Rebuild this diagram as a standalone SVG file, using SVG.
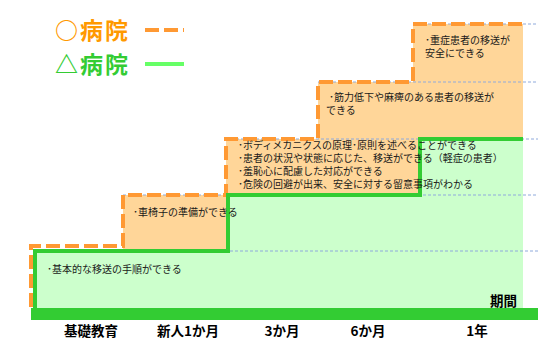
<svg xmlns="http://www.w3.org/2000/svg" width="538" height="361" viewBox="0 0 538 361">
<style>
.leg{font-family:"Noto Sans CJK JP","Noto Sans",sans-serif;font-weight:bold;font-size:23px}
.t{font-family:"Noto Sans CJK JP","Noto Sans",sans-serif;font-size:10px;fill:#1a1a1a}
.ax{font-family:"Noto Sans CJK JP","Noto Sans",sans-serif;font-weight:bold;font-size:13.5px;fill:#000;text-anchor:middle}
.grid{stroke:#8FAADC;stroke-width:1;stroke-dasharray:3 2;fill:none}
.orange{stroke:#FF9933;stroke-width:4;stroke-dasharray:14 5;fill:none}
.green{stroke:#33CC33;stroke-width:4;fill:none}
</style>
<rect width="538" height="361" fill="#fff"/>
<g id="legend">
<text class="leg" x="55" y="39" fill="#FF9900" textLength="73">○病院</text>
<line x1="145" y1="30" x2="184" y2="30" class="orange"/>
<text class="leg" x="55" y="73" fill="#33CC33" textLength="73">△病院</text>
<line x1="145" y1="64" x2="184" y2="64" stroke="#66FF66" stroke-width="4"/>
</g>
<g id="fills">
<path d="M123,251 V195 H226 V139 H318 V82 H413 V24 H523 V308 H123 Z" fill="#FFD699"/>
<path d="M35,308 V251 H228 V195 H420 V139 H523 V308 Z" fill="#CCFFCC"/>
</g>
<g id="grid">
<line x1="413" y1="24" x2="538" y2="24" class="grid"/>
<line x1="318" y1="82" x2="538" y2="82" class="grid"/>
<line x1="226" y1="139" x2="538" y2="139" class="grid"/>
<line x1="123" y1="195" x2="538" y2="195" class="grid"/>
<line x1="35" y1="251" x2="538" y2="251" class="grid"/>
</g>
<g id="connectors">
<path d="M31,307 V246 H123 V195 H226 V139 H318 V82 H413 V24 H523" class="orange"/>
<path d="M35,308 V251 H228 V195 H420 V139 H523" class="green"/>
<rect x="31" y="308" width="507" height="12" fill="#33CC33"/>
</g>
<g id="step1"><text class="t" x="47" y="273">･基本的な移送の手順ができる</text></g>
<g id="step2"><text class="t" x="133" y="216">･車椅子の準備ができる</text></g>
<g id="step3">
<text class="t" x="238" y="149">･ボディメカニクスの原理･原則を述べることができる</text>
<text class="t" x="238" y="162">･患者の状況や状態に応じた、移送ができる（軽症の患者）</text>
<text class="t" x="238" y="175">･羞恥心に配慮した対応ができる</text>
<text class="t" x="238" y="188">･危険の回避が出来、安全に対する留意事項がわかる</text>
</g>
<g id="step4">
<text class="t" x="329" y="101">･筋力低下や麻痺のある患者の移送が</text>
<text class="t" x="326" y="114">できる</text>
</g>
<g id="step5">
<text class="t" x="425" y="44">･重症患者の移送が</text>
<text class="t" x="425" y="57">安全にできる</text>
</g>
<g id="axis">
<text class="ax" x="91" y="336">基礎教育</text>
<text class="ax" x="188" y="336">新人1か月</text>
<text class="ax" x="282" y="336">3か月</text>
<text class="ax" x="368" y="336">6か月</text>
<text class="ax" x="477" y="336">1年</text>
<text class="ax" x="517" y="306" style="text-anchor:end">期間</text>
</g>
</svg>
